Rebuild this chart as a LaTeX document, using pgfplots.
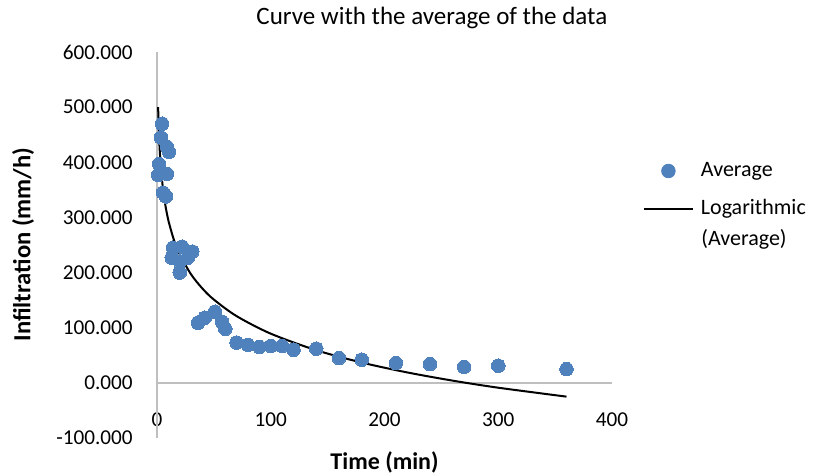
\documentclass[border=0pt]{standalone}
\usepackage{fontspec}
\setmainfont{Carlito}
\usepackage{pgfplots}
\pgfplotsset{compat=1.18}
\definecolor{ptblue}{RGB}{79,129,189}
\definecolor{axgray}{RGB}{191,191,191}

\pgfplotstableread{
x y
0.9 377
1.8 397
3.5 445
4.4 470
5.3 345
7.9 338
8.8 379
8.8 428
10.5 419
13 227
14 245
20 220
20 200
22 247
27 227
31 238
36 109
42 118
51 129
57 111
60 98
70 73
80 69
90 65
100 67
110 67
120 60
140 62
160 45
180 42
210 36
240 34
270 29
300 31
360 25
}\avgdata

% logarithmic trendline
\pgfplotstableread{
x y
1 500
1.5 463.8
2 438.2
3 402.0
5 356.4
7 326.4
10 294.6
15 258.4
20 232.8
30 196.6
40 170.9
50 151.0
70 121.0
100 89.2
140 59.2
180 36.8
220 18.9
260 4.0
300 -8.8
360 -25.0
}\logdata

\begin{document}
\begin{tikzpicture}
\begin{axis}[
  scale only axis, width=227.5pt, height=193pt,
  xmin=0, xmax=400, ymin=-100, ymax=600,
  xtick={0,100,200,300,400},
  ytick={-100,0,100,200,300,400,500,600},
  axis line style={draw=none},
  major tick length=0pt,
  /pgf/number format/assume math mode=true,
  yticklabel={\pgfmathprintnumber[fixed,fixed zerofill,precision=3]{\tick}},
  yticklabel style={anchor=east, inner sep=0pt, xshift=-12pt, font=\fontsize{10.6}{12}\selectfont},
  xticklabel style={anchor=center, inner sep=0pt, yshift=9pt, font=\fontsize{10.6}{12}\selectfont},
  title={Curve with the average of the data},
  title style={at={(axis description cs:0.604,1.088)}, anchor=center, yshift=-6pt, inner sep=0pt, font=\fontsize{12.5}{14}\selectfont},
  xlabel={Time (min)},
  xlabel style={at={(axis description cs:0.5,-0.062)}, anchor=center, inner sep=0pt, font=\bfseries\fontsize{12}{14}\selectfont},
  ylabel={Infiltration (mm/h)},
  ylabel style={at={(axis description cs:-0.2945,0.501)}, anchor=center, inner sep=0pt, font=\bfseries\fontsize{12.3}{14}\selectfont},
  legend style={at={(axis description cs:1.068,0.7189)}, anchor=north west,
    draw=none, fill=none, inner sep=0pt, outer sep=0pt, row sep=8.5pt,
    font=\fontsize{11}{13}\selectfont,
    nodes={inner sep=0pt, text height=8pt, text depth=2.5pt},
    /tikz/every odd column/.append style={column sep=3.5pt}},
  legend cell align=left,
  clip=false,
]
\draw[axgray, line width=0.75pt] (axis cs:0,-100) -- (axis cs:0,600);
\draw[axgray, line width=0.75pt] (axis cs:0,0) -- (axis cs:400,0);
\addplot[only marks, mark=*, mark size=3.4pt, color=ptblue, mark options={draw=ptblue, fill=ptblue, line width=0pt},
  legend image code/.code={\fill[ptblue] (12.25pt,0pt) circle[radius=3.4pt];
    \path (0pt,0pt) (24.5pt,0pt);}]
  table[x=x, y=y] {\avgdata};
\addlegendentry{Average}
\addplot[black, line width=1pt, no marks, smooth,
  legend image code/.code={\draw[black, line width=1pt] (0pt,0pt) -- (24.5pt,0pt);}]
  table[x=x, y=y] {\logdata};
\addlegendentry{Logarithmic}
\node[anchor=west, inner sep=0pt, text height=8pt, text depth=2.5pt, font=\fontsize{11}{13}\selectfont]
  at (axis description cs:1.1956,0.513) {(Average)};
\end{axis}
\pgfresetboundingbox
\path (-78.5pt,-18.5pt) rectangle (330.5pt,219pt);
\end{tikzpicture}
\end{document}
